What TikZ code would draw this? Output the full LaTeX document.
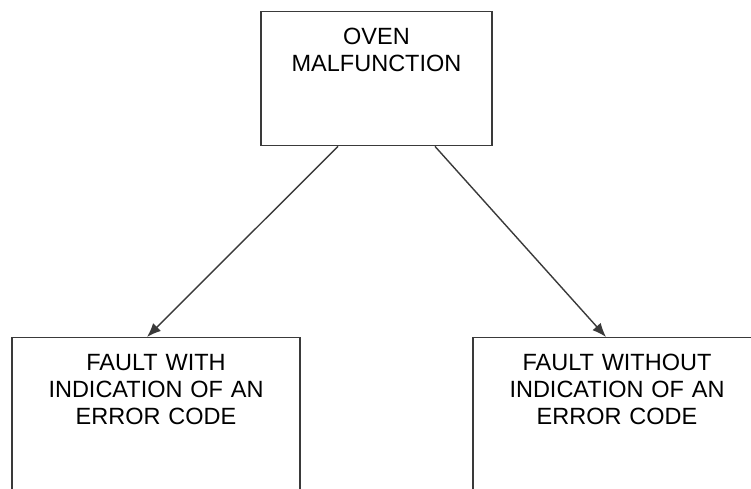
\documentclass[tikz,border=0pt]{standalone}
\usepackage{fontspec}
\setmainfont{Liberation Sans}
\usetikzlibrary{positioning,arrows.meta}
\definecolor{edgegray}{HTML}{3A3A3A}
\tikzstyle{block} = [rectangle, draw=edgegray, line width=1.4pt, align=center, anchor=north, inner xsep=10pt, inner ysep=16pt, text height=17pt, font=\fontsize{23.5}{27}\selectfont]
\tikzstyle{line} = [draw=edgegray, line width=1.4pt, -{Latex[length=14pt,width=11pt]}]

\begin{document}
\begin{tikzpicture}[x=1pt,y=-1pt]
	\useasboundingbox (0,0) rectangle (751,488);
	\node [block, text width=211pt, text depth=85pt] (oven) at (376.5,11) {OVEN\\MALFUNCTION};
	\node [block, text width=268pt, text depth=151pt] (withcode) at (156,337) {FAULT WITH\\INDICATION OF AN\\ERROR CODE};
	\node [block, text width=268pt, text depth=151pt] (nocode) at (617,337) {FAULT WITHOUT\\INDICATION OF AN\\ERROR CODE};
	
	\path[line] ([xshift=-38.5pt]oven.south) -- ([xshift=-9pt]withcode.north);
	\path[line] ([xshift=58.5pt]oven.south) -- ([xshift=-11pt]nocode.north);
\end{tikzpicture}
\end{document}
